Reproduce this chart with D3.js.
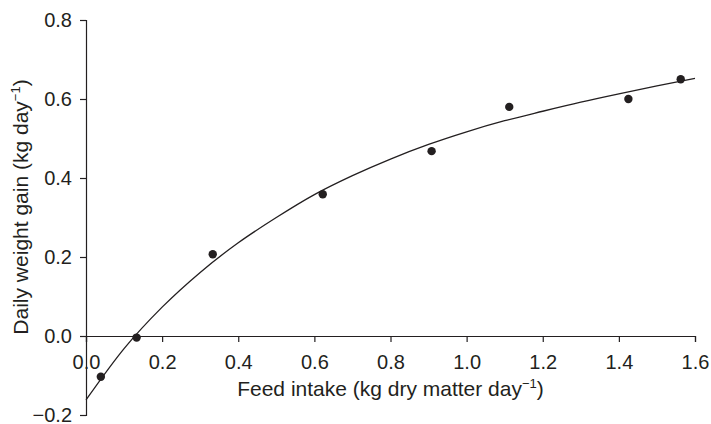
<!DOCTYPE html>
<html>
<head>
<meta charset="utf-8">
<script src="https://cdnjs.cloudflare.com/ajax/libs/d3/7.8.5/d3.min.js"></script>
<style>
  body { margin: 0; background: #fff; }
  svg text { font-family: "Liberation Sans", Arial, sans-serif; fill: #231f20; }
</style>
</head>
<body>
<script>
// chart size
var width = 711;
var height = 424;

// observed points
var intake = [0.039, 0.133, 0.333, 0.622, 0.908, 1.112, 1.425, 1.5625];
var gain = [-0.103, -0.004, 0.207, 0.359, 0.468, 0.580, 0.600, 0.650];

// fitted response curve
var curveX = [0, 0.1, 0.2, 0.3, 0.4, 0.5, 0.6, 0.7, 0.8, 0.9, 1.0, 1.1, 1.2, 1.3, 1.4, 1.5, 1.6];
var curveY = [-0.162, -0.032, 0.073, 0.161, 0.236, 0.300, 0.358, 0.406, 0.448, 0.485, 0.517,
              0.545, 0.569, 0.592, 0.613, 0.633, 0.652];

var xTicks = [0, 0.2, 0.4, 0.6, 0.8, 1.0, 1.2, 1.4, 1.6];
var yTicks = [-0.2, 0, 0.2, 0.4, 0.6, 0.8];

var svg = d3.select('body').append('svg').attr('width', width).attr('height', height);

var x = d3.scaleLinear().domain([0, 1.6]).range([86, 695]);
var y = d3.scaleLinear().domain([-0.2, 0.8]).range([415, 20]);

var ink = "#231f20";

// x axis sits on y = 0
svg.append("g")
    .attr("transform", "translate(0," + y(0) + ")")
    .call(d3.axisBottom(x).tickValues(xTicks).tickFormat(d3.format(".1f"))
        .tickSizeOuter(0).tickSize(6).tickPadding(13));

svg.append("g")
    .attr("transform", "translate(" + x(0) + ",0)")
    .call(d3.axisLeft(y).tickValues(yTicks)
        .tickFormat(function(d){ return d < 0 ? "\u2212" + d3.format(".1f")(-d) : d3.format(".1f")(d); })
        .tickSizeOuter(0).tickSize(6).tickPadding(8));

svg.selectAll(".domain, .tick line").attr("stroke", ink).attr("stroke-width", 1.2);
svg.selectAll(".tick text").attr("font-size", 20).attr("fill", ink)
    .style("font-family", "'Liberation Sans', Arial, sans-serif");

// curve
var line = d3.line()
    .x(function(d){ return x(d[0]); })
    .y(function(d){ return y(d[1]); })
    .curve(d3.curveMonotoneX);

svg.append("path")
    .datum(d3.zip(curveX, curveY))
    .attr("d", line)
    .attr("fill", "none")
    .attr("stroke", ink)
    .attr("stroke-width", 1.3);

// points
svg.append("g")
    .selectAll("circle")
    .data(d3.zip(intake, gain))
    .enter()
    .append("circle")
    .attr("cx", function(d){ return x(d[0]); })
    .attr("cy", function(d){ return y(d[1]); })
    .attr("r", 4.2)
    .attr("fill", ink);

// axis titles
var xt = svg.append("text")
    .attr("x", x(0.8))
    .attr("y", 396)
    .attr("text-anchor", "middle")
    .attr("font-size", 21);
xt.append("tspan").text("Feed intake (kg dry matter day");
xt.append("tspan").attr("font-size", 13).attr("dy", -8).text("\u22121");
xt.append("tspan").attr("dy", 8).text(")");

var yt = svg.append("text")
    .attr("transform", "translate(28,207) rotate(-90)")
    .attr("text-anchor", "middle")
    .attr("font-size", 21);
yt.append("tspan").text("Daily weight gain (kg day");
yt.append("tspan").attr("font-size", 13).attr("dy", -8).text("\u22121");
yt.append("tspan").attr("dy", 8).text(")");
</script>
</body>
</html>
